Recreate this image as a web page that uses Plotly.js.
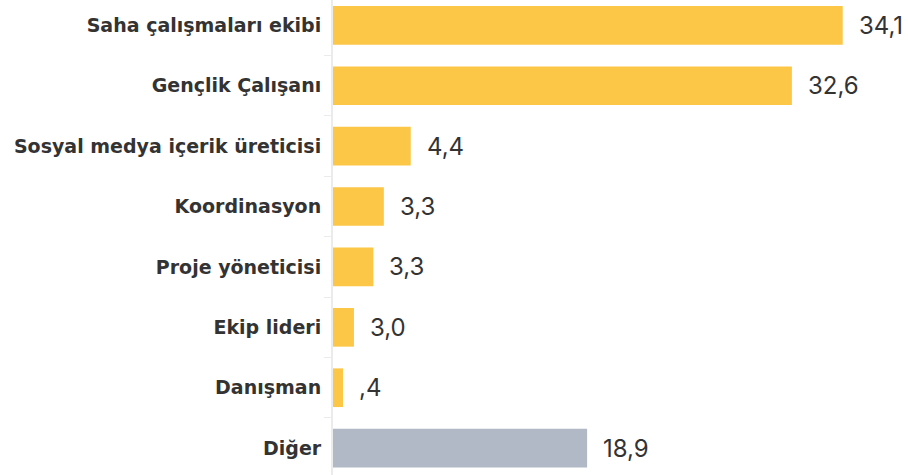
<!DOCTYPE html>
<html>
<head>
<meta charset="utf-8">
<script src="https://cdn.plot.ly/plotly-3.0.1.min.js"></script>
<style>html,body{margin:0;padding:0;background:#fff;}#chart{width:908px;height:475px;}</style>
</head>
<body>
<div id="chart"></div>
<script>
// Data
var categories = ["Saha çalışmaları ekibi", "Gençlik Çalışanı", "Sosyal medya içerik üreticisi", "Koordinasyon", "Proje yöneticisi", "Ekip lideri", "Danışman", "Diğer"];
// bar lengths as drawn in the picture
var barValues = [34.1, 30.7, 5.2, 3.4, 2.7, 1.4, 0.67, 17.0];
// value labels as printed in the picture
var valueLabels = ["34,1", "32,6", "4,4", "3,3", "3,3", "3,0", ",4", "18,9"];
var barColors = ["#FCC647", "#FCC647", "#FCC647", "#FCC647", "#FCC647", "#FCC647", "#FCC647", "#B1B8C6"];

var trace = {
  type: "bar",
  orientation: "h",
  y: categories,
  x: barValues,
  marker: {color: barColors},
  hoverinfo: "none"
};

var annotations = categories.map(function (c, i) {
  return {
    x: barValues[i], y: c, xref: "x", yref: "y",
    text: valueLabels[i], showarrow: false,
    xanchor: "left", yanchor: "middle", xshift: 14,
    font: {family: "Inter, 'Open Sans', sans-serif", size: 24, color: "#333333"}
  };
});

var layout = {
  width: 908, height: 475,
  margin: {l: 333, r: 7, t: 0, b: 0, pad: 0},
  paper_bgcolor: "#ffffff", plot_bgcolor: "#ffffff",
  bargap: 0.36,
  showlegend: false,
  xaxis: {range: [0, 38], visible: false, fixedrange: true},
  yaxis: {
    type: "category",
    range: [7.445, -0.419],
    showline: true, linecolor: "#ebebeb", linewidth: 2,
    ticks: "outside", ticklen: 7, tickcolor: "#ebebeb", tickwidth: 1,
    tickson: "boundaries",
    showgrid: false, zeroline: false,
    ticklabelstandoff: 6,
    tickfont: {family: "'DejaVu Sans', sans-serif", size: 19, color: "#333333", weight: 700}
  },
  annotations: annotations
};

Plotly.newPlot("chart", [trace], layout, {staticPlot: true, displayModeBar: false});
</script>
</body>
</html>
